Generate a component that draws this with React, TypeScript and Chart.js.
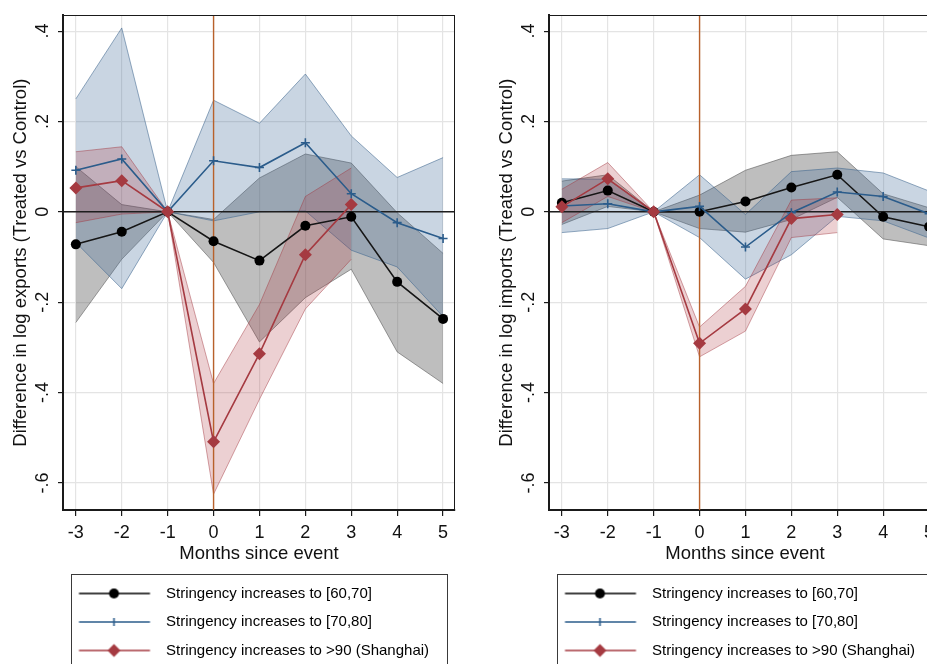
import { useEffect, useRef } from 'react';
import { Chart, registerables } from 'chart.js';

Chart.register(...registerables);

// ---------- data ----------
const months = [-3, -2, -1, 0, 1, 2, 3, 4, 5];
const xTickValues = [-3, -2, -1, 0, 1, 2, 3, 4, 5];
const yTickValues = [-0.6, -0.4, -0.2, 0, 0.2, 0.4];
const yTickLabels = ['-.6', '-.4', '-.2', '0', '.2', '.4'];
const xRange = [-3.28, 5.26];
const yRange = [-0.66, 0.435];

const seriesLabels = [
  'Stringency increases to [60,70]',
  'Stringency increases to [70,80]',
  'Stringency increases to >90 (Shanghai)',
];
const xTitle = 'Months since event';
const yTitleExports = 'Difference in log exports (Treated vs Control)';
const yTitleImports = 'Difference in log imports (Treated vs Control)';

// Exports panel
const exp60 = [-0.072, -0.044, 0, -0.065, -0.108, -0.031, -0.011, -0.155, -0.237];
const exp60Hi = [0.1, 0.016, 0, -0.017, 0.075, 0.128, 0.108, -0.002, -0.092];
const exp60Lo = [-0.245, -0.105, 0, -0.112, -0.288, -0.19, -0.127, -0.31, -0.38];
const exp70 = [0.092, 0.117, 0, 0.113, 0.098, 0.153, 0.04, -0.024, -0.059];
const exp70Hi = [0.25, 0.407, 0, 0.247, 0.196, 0.305, 0.168, 0.076, 0.12];
const exp70Lo = [-0.068, -0.17, 0, -0.02, 0.0, 0.002, -0.085, -0.122, -0.232];
const exp90 = [0.053, 0.069, 0, -0.509, -0.314, -0.095, 0.016, null, null];
const exp90Hi = [0.133, 0.144, 0, -0.38, -0.205, 0.034, 0.097, null, null];
const exp90Lo = [-0.024, -0.005, 0, -0.625, -0.415, -0.215, -0.105, null, null];

// Imports panel
const imp60 = [0.02, 0.047, 0, 0.0, 0.023, 0.054, 0.082, -0.011, -0.033];
const imp60Hi = [0.068, 0.082, 0, 0.037, 0.092, 0.125, 0.133, 0.04, 0.009];
const imp60Lo = [-0.028, 0.012, 0, -0.037, -0.045, -0.017, 0.032, -0.06, -0.075];
const imp70 = [0.013, 0.018, 0, 0.012, -0.078, -0.002, 0.044, 0.034, -0.004];
const imp70Hi = [0.073, 0.072, 0, 0.082, -0.006, 0.089, 0.097, 0.086, 0.046];
const imp70Lo = [-0.046, -0.037, 0, -0.057, -0.149, -0.095, -0.01, -0.02, -0.058];
const imp90 = [0.011, 0.073, 0, -0.291, -0.215, -0.015, -0.006, null, null];
const imp90Hi = [0.05, 0.109, 0, -0.255, -0.165, 0.026, 0.031, null, null];
const imp90Lo = [-0.024, 0.034, 0, -0.321, -0.264, -0.057, -0.046, null, null];

// ---------- styles ----------
const FONT = "'Liberation Sans', Arial, Helvetica, sans-serif";
const C_BLACK = '#161616';
const C_BLUE = '#2b5c8b';
const C_RED = '#a53a41';
const BAND = [
  { fill: 'rgba(100,100,100,0.42)', edge: 'rgba(80,80,80,0.55)' },
  { fill: 'rgba(60,105,150,0.28)', edge: 'rgba(60,100,140,0.55)' },
  { fill: 'rgba(170,40,50,0.22)', edge: 'rgba(160,50,60,0.45)' },
];

type Arr = (number | null)[];
const pts = (a: Arr) => months.map((m, i) => ({ x: m, y: a[i] }));

function legendImage(kind: number, color: string): HTMLCanvasElement {
  const c = document.createElement('canvas');
  c.width = 82;
  c.height = 16;
  const g = c.getContext('2d')!;
  g.strokeStyle = color;
  g.lineWidth = 1.6;
  g.beginPath();
  g.moveTo(2.5, 8);
  g.lineTo(73.5, 8);
  g.stroke();
  g.fillStyle = color;
  if (kind === 0) {
    g.beginPath();
    g.arc(37.5, 8, 5, 0, Math.PI * 2);
    g.fill();
  } else if (kind === 1) {
    g.beginPath();
    g.moveTo(37.5, 4);
    g.lineTo(37.5, 12);
    g.stroke();
  } else {
    g.beginPath();
    g.moveTo(37.5, 1.5);
    g.lineTo(44, 8);
    g.lineTo(37.5, 14.5);
    g.lineTo(31, 8);
    g.closePath();
    g.fill();
  }
  return c;
}

const framePlugin = {
  id: 'frame',
  afterDraw(chart: any) {
    const { ctx, chartArea: a, legend } = chart;
    ctx.save();
    ctx.strokeStyle = '#1a1a1a';
    ctx.lineWidth = 1;
    ctx.strokeRect(Math.round(a.left) + 0.5, Math.round(a.top) + 0.5, Math.round(a.right - a.left) - 1, Math.round(a.bottom - a.top));
    if (legend) {
      ctx.strokeStyle = '#3a3a3a';
      ctx.strokeRect(Math.round(legend.left + 8) + 0.5, Math.round(legend.top + 1) + 0.5, Math.round(legend.width - 16), 300);
    }
    ctx.restore();
  },
};

interface PanelData {
  yTitle: string;
  s60: Arr; s60Hi: Arr; s60Lo: Arr;
  s70: Arr; s70Hi: Arr; s70Lo: Arr;
  s90: Arr; s90Hi: Arr; s90Lo: Arr;
}

function buildConfig(d: PanelData): any {
  const band = (hi: Arr, lo: Arr, k: number, order: number) => [
    {
      data: pts(hi), fill: '+1', backgroundColor: BAND[k].fill, borderColor: BAND[k].edge,
      borderWidth: 1, pointRadius: 0, tension: 0, order,
    },
    {
      data: pts(lo), fill: false, borderColor: BAND[k].edge,
      borderWidth: 1, pointRadius: 0, tension: 0, order,
    },
  ];
  const imgs = [legendImage(0, '#000'), legendImage(1, C_BLUE), legendImage(2, C_RED)];
  const datasets: any[] = [
    ...band(d.s60Hi, d.s60Lo, 0, 30),
    ...band(d.s70Hi, d.s70Lo, 1, 29),
    ...band(d.s90Hi, d.s90Lo, 2, 28),
    {
      data: [{ x: xRange[0], y: 0 }, { x: xRange[1], y: 0 }],
      borderColor: '#1e1e1e', borderWidth: 1.6, pointRadius: 0, fill: false, order: 10,
    },
    {
      data: [{ x: 0, y: yRange[0] }, { x: 0, y: yRange[1] }],
      borderColor: '#b8612b', borderWidth: 1.4, pointRadius: 0, fill: false, order: 10,
    },
    {
      label: seriesLabels[0], data: pts(d.s60), borderColor: C_BLACK, borderWidth: 1.6,
      pointStyle: 'circle', pointRadius: 5, pointBackgroundColor: '#000', pointBorderColor: '#000',
      pointBorderWidth: 0, fill: false, tension: 0, order: 2,
    },
    {
      label: seriesLabels[1], data: pts(d.s70), borderColor: C_BLUE, borderWidth: 1.6,
      pointStyle: 'cross', pointRadius: 4.5, pointBorderColor: C_BLUE, pointBorderWidth: 1.6,
      fill: false, tension: 0, order: 1,
    },
    {
      label: seriesLabels[2], data: pts(d.s90), borderColor: C_RED, borderWidth: 1.6,
      pointStyle: 'rectRot', pointRadius: 6.5, pointBackgroundColor: C_RED, pointBorderColor: C_RED,
      pointBorderWidth: 0, fill: false, tension: 0, order: 0,
    },
  ];

  return {
    type: 'line',
    data: { datasets },
    plugins: [framePlugin],
    options: {
      animation: false,
      responsive: false,
      events: [],
      layout: { padding: { left: 0, top: 11, right: 31, bottom: 12 } },
      plugins: {
        tooltip: { enabled: false },
        legend: {
          display: true,
          position: 'bottom',
          align: 'start',
          fullSize: false,
          onClick: () => {},
          labels: {
            usePointStyle: true,
            pointStyleWidth: 82,
            padding: 13.5,
            color: '#111',
            font: { family: FONT, size: 15 },
            generateLabels: () =>
              seriesLabels.map((t, i) => ({
                text: t, pointStyle: imgs[i], fillStyle: 'rgba(0,0,0,0)', strokeStyle: 'rgba(0,0,0,0)',
                lineWidth: 0, hidden: false, datasetIndex: 8 + i,
              })),
          },
        },
      },
      scales: {
        x: {
          type: 'linear',
          min: xRange[0],
          max: xRange[1],
          afterBuildTicks: (s: any) => { s.ticks = xTickValues.map((v) => ({ value: v })); },
          afterFit: (s: any) => { s.height = 62.5; },
          grid: { color: '#e4e4e4', lineWidth: 1.2, tickColor: '#1a1a1a', tickLength: 6, drawTicks: true },
          border: { display: true, color: '#1a1a1a', width: 2 },
          ticks: {
            color: '#111', padding: 6.2, maxRotation: 0, autoSkip: false,
            font: { family: FONT, size: 18 },
            callback: (v: number) => String(v),
          },
          title: {
            display: true, text: xTitle, color: '#111',
            font: { family: FONT, size: 18.5 }, padding: { top: 0, bottom: 7.6 },
          },
        },
        y: {
          type: 'linear',
          min: yRange[0],
          max: yRange[1],
          afterBuildTicks: (s: any) => { s.ticks = yTickValues.map((v) => ({ value: v })); },
          afterFit: (s: any) => { s.width = 63; },
          grid: { color: '#e4e4e4', lineWidth: 1.2, tickColor: '#1a1a1a', tickLength: 5, drawTicks: true },
          border: { display: true, color: '#1a1a1a', width: 2 },
          ticks: {
            color: '#111', padding: 4.5, minRotation: 90, maxRotation: 90, crossAlign: 'center',
            autoSkip: false, font: { family: FONT, size: 18 },
            callback: (v: number) => {
              const i = yTickValues.findIndex((t) => Math.abs(t - v) < 1e-9);
              return i >= 0 ? yTickLabels[i] : '';
            },
          },
          title: {
            display: true, text: d.yTitle, color: '#111',
            font: { family: FONT, size: 18.5 }, padding: { top: 10, bottom: 0 },
          },
        },
      },
    },
  };
}

function Panel({ left, data }: { left: number; data: PanelData }) {
  const ref = useRef<HTMLCanvasElement>(null);
  useEffect(() => {
    const chart = new Chart(ref.current!, buildConfig(data));
    return () => chart.destroy();
  }, []);
  return (
    <canvas
      ref={ref}
      width={486}
      height={680}
      style={{ position: 'absolute', left, top: 0, width: 486, height: 680 }}
    />
  );
}

export default function App() {
  const exportsData: PanelData = {
    yTitle: yTitleExports,
    s60: exp60, s60Hi: exp60Hi, s60Lo: exp60Lo,
    s70: exp70, s70Hi: exp70Hi, s70Lo: exp70Lo,
    s90: exp90, s90Hi: exp90Hi, s90Lo: exp90Lo,
  };
  const importsData: PanelData = {
    yTitle: yTitleImports,
    s60: imp60, s60Hi: imp60Hi, s60Lo: imp60Lo,
    s70: imp70, s70Hi: imp70Hi, s70Lo: imp70Lo,
    s90: imp90, s90Hi: imp90Hi, s90Lo: imp90Lo,
  };
  return (
    <div
      style={{
        position: 'fixed', left: 0, top: 0, width: 927, height: 664,
        overflow: 'hidden', background: '#fff',
      }}
    >
      <Panel left={0} data={exportsData} />
      <Panel left={486} data={importsData} />
    </div>
  );
}
